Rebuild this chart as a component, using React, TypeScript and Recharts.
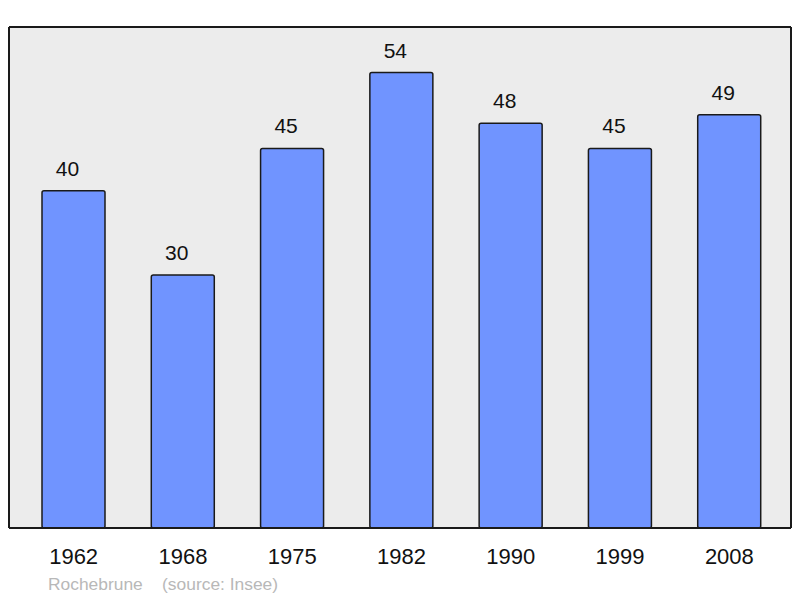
import React from "react";
import { BarChart, Bar, XAxis, YAxis, CartesianGrid, LabelList } from "recharts";

const years = ["1962", "1968", "1975", "1982", "1990", "1999", "2008"];
const population = [40, 30, 45, 54, 48, 45, 49];
const yMax = 59.4;

const data = years.map((year, i) => ({ year, value: population[i] }));

const font = "'Liberation Sans', Arial, sans-serif";
const frame = { stroke: "#1a1a1a", strokeWidth: 2 };

export default function App() {
  return (
    <div style={{ position: "absolute", left: 0, top: 0, width: 800, height: 598, fontFamily: font }}>
      <BarChart width={800} height={598} data={data} margin={{ top: 26, right: 8, left: 8, bottom: 30 }}>
        <CartesianGrid fill="#ececec" horizontal={false} vertical={false} />
        <XAxis
          dataKey="year"
          height={40}
          padding={{ left: 10, right: 7 }}
          axisLine={frame}
          tickLine={false}
          tickSize={0}
          tickMargin={20}
          tick={{ fill: "#111", fontSize: 22, fontFamily: font }}
        />
        <XAxis xAxisId="top" dataKey="year" orientation="top" height={1} axisLine={frame} tick={false} tickLine={false} padding={{ left: 10, right: 7 }} />
        <YAxis width={1} domain={[0, yMax]} axisLine={frame} tick={false} tickLine={false} />
        <YAxis yAxisId="right" orientation="right" width={1} domain={[0, yMax]} axisLine={frame} tick={false} tickLine={false} />
        <Bar dataKey="value" barSize={63} fill="#7094ff" stroke="#1a1a1a" strokeWidth={1.5} radius={2} isAnimationActive={false}>
          <LabelList dataKey="value" position="top" offset={15} dx={-6} fill="#111" fontSize={21} fontFamily={font} />
        </Bar>
      </BarChart>
      <div style={{ position: "absolute", left: 48, top: 574, fontSize: 17.4, color: "#b8b8b8", whiteSpace: "pre" }}>
        {"Rochebrune    (source: Insee)"}
      </div>
    </div>
  );
}
